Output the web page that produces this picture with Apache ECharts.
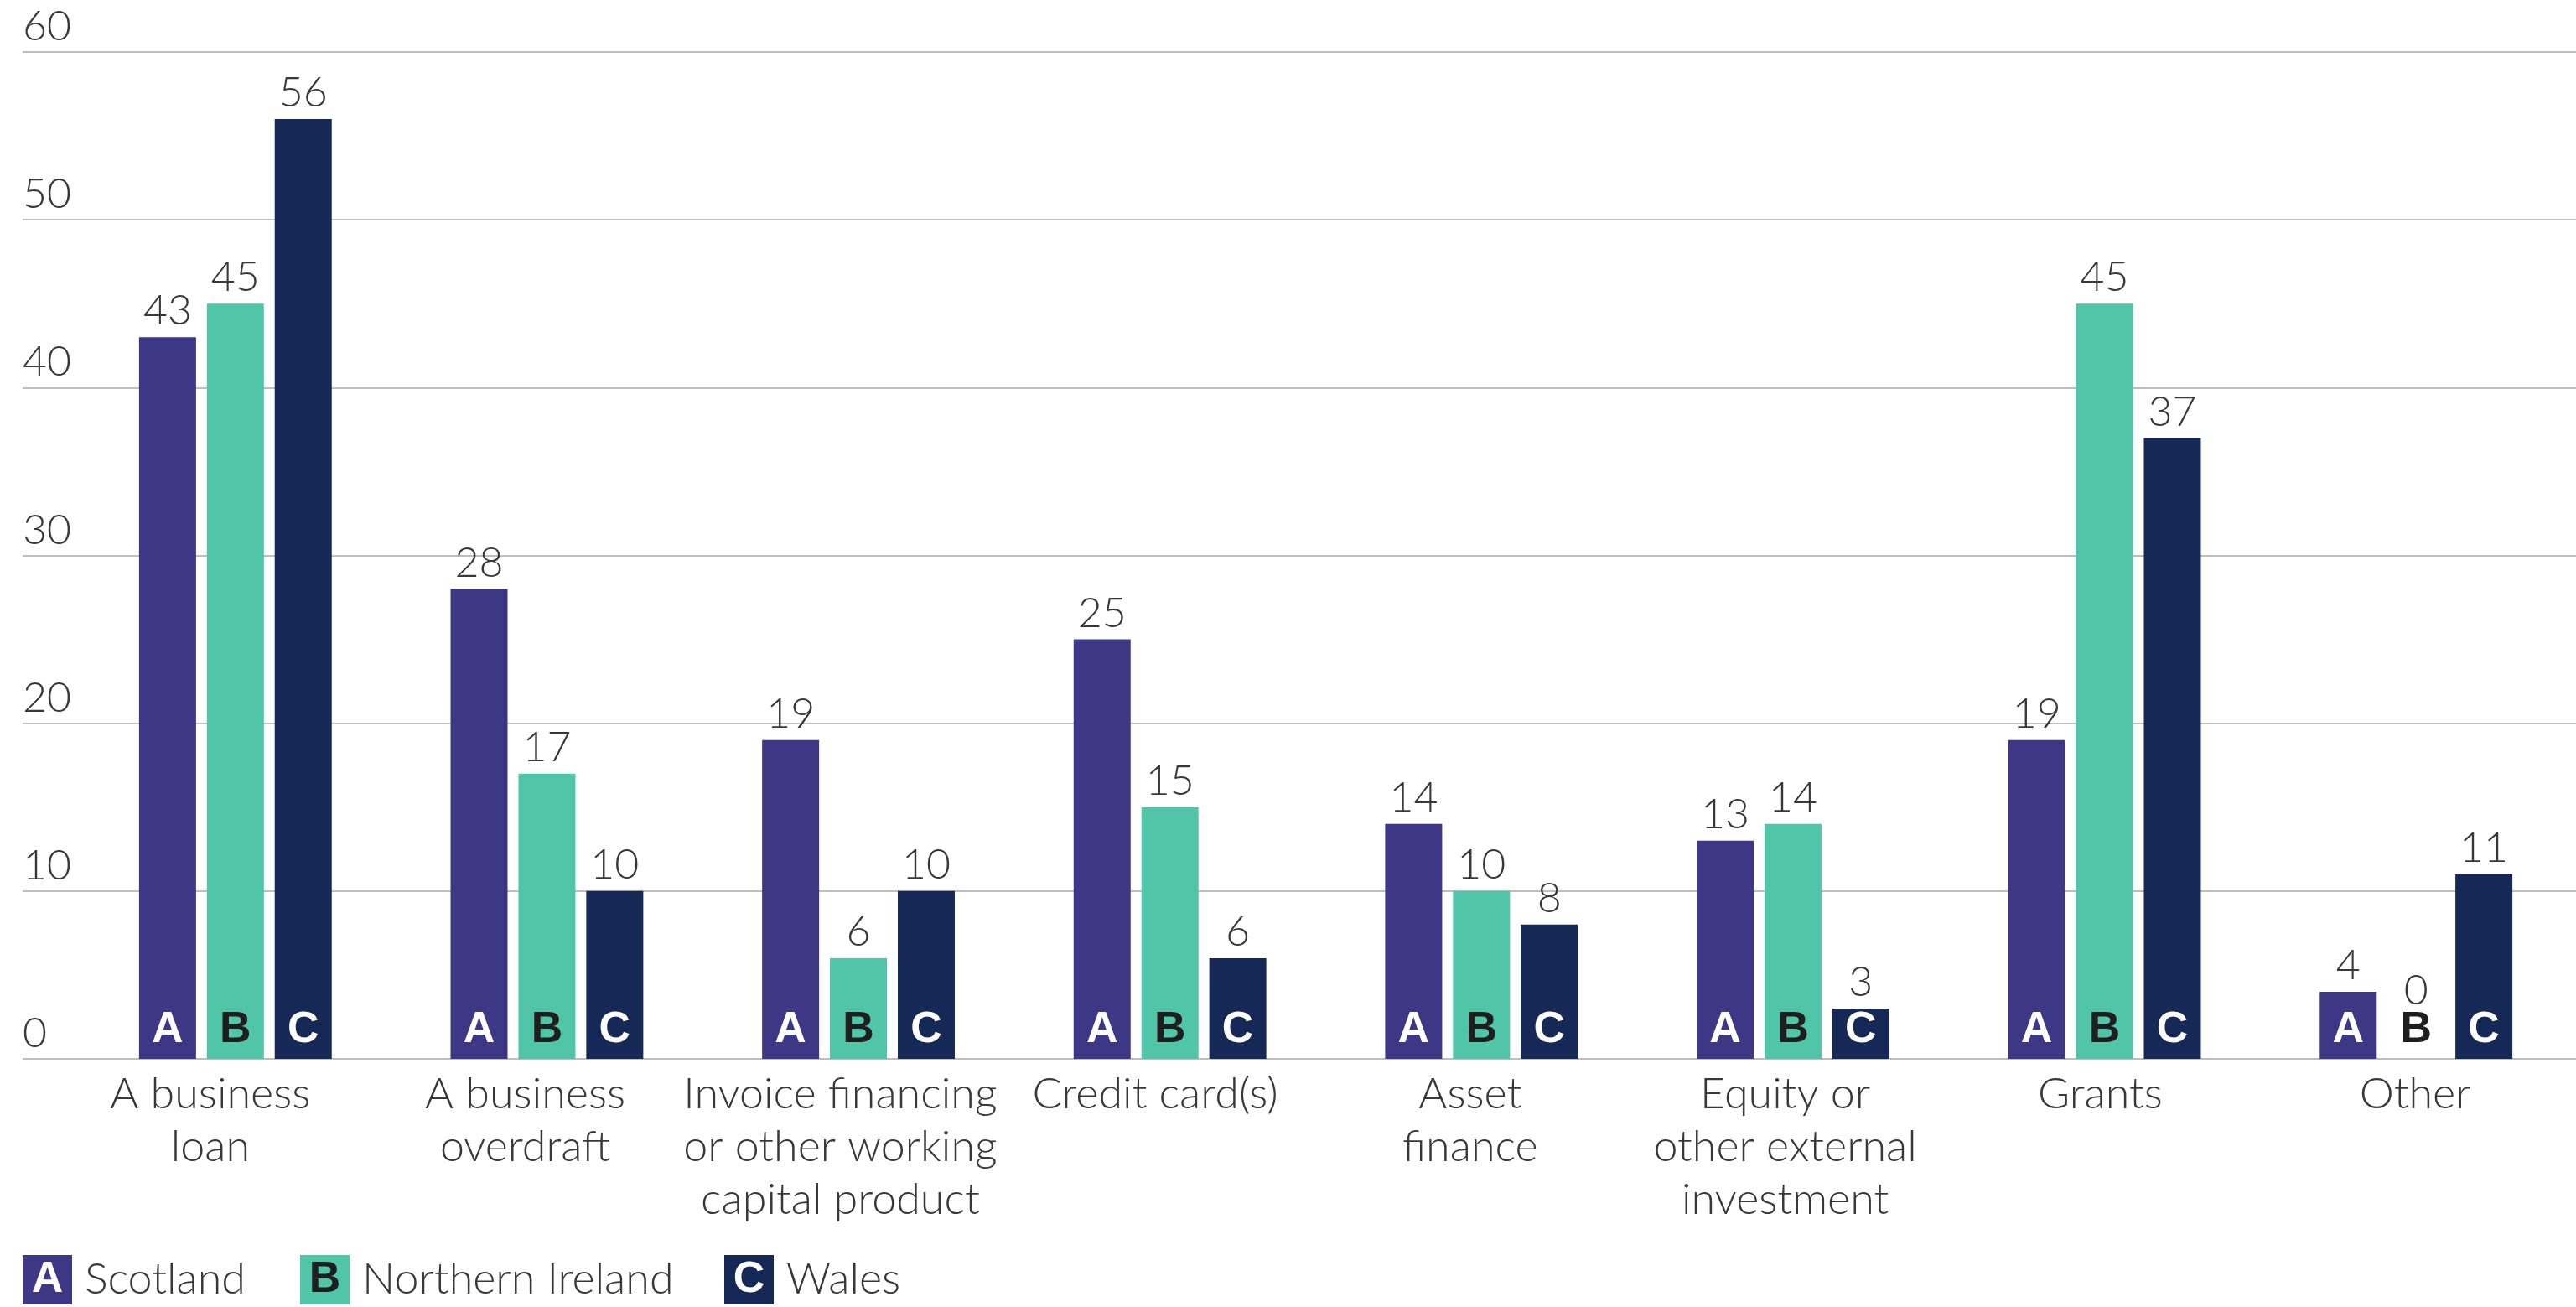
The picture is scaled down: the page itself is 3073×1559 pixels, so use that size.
<!DOCTYPE html>
<html>
<head>
<meta charset="utf-8">
<style>
  html, body { margin: 0; padding: 0; background: #ffffff; }
  #chart { width: 3073px; height: 1559px; }
</style>
<script src="https://cdn.jsdelivr.net/npm/echarts@6/dist/echarts.min.js"></script>
</head>
<body>
<div id="chart"></div>
<script>
// Share of businesses (%) by type of finance, per nation
const categories = [
  'A business\nloan',
  'A business\noverdraft',
  'Invoice financing\nor other working\ncapital product',
  'Credit card(s)',
  'Asset\nfinance',
  'Equity or\nother external\ninvestment',
  'Grants',
  'Other'
];
const scotland        = [43, 28, 19, 25, 14, 13, 19, 4];
const northernIreland = [45, 17, 6, 15, 10, 14, 45, 0];
const wales           = [56, 10, 10, 6, 8, 3, 37, 11];

const seriesNames = ['Scotland', 'Northern Ireland', 'Wales'];
const keyLetters  = ['A', 'B', 'C'];
const colors      = ['#3D3785', '#50C5A8', '#162855'];
const letterColors = ['#ffffff', '#1e1e1e', '#ffffff'];

const yMin = 0, yMax = 60, yStep = 10;

const TEXT = '#383838';
const FONT = 'Lato';
const KEY_FONT = 'Liberation Sans';

const BAR_W = 68;
const GRID_TOP = 62, GRID_BOTTOM = 296;

const values = [scotland, northernIreland, wales];
const stacks = ['s', 'n', 'w'];

// Letter markers sit on a zero-height bar at the base of each column
const letterSeries = keyLetters.map((letter, i) => ({
  name: seriesNames[i] + ' key',
  type: 'bar',
  xAxisIndex: 2,
  yAxisIndex: 2,
  stack: stacks[i],
  barWidth: BAR_W,
  barGap: '19%',
  z: 5,
  silent: true,
  itemStyle: { color: 'rgba(0,0,0,0)' },
  data: categories.map(() => 0),
  label: {
    show: true,
    position: 'top',
    distance: 8,
    formatter: letter,
    fontFamily: KEY_FONT,
    fontWeight: 'bold',
    fontSize: 52,
    color: letterColors[i]
  }
}));

const valueSeries = values.map((arr, i) => ({
  name: seriesNames[i],
  type: 'bar',
  xAxisIndex: 2,
  yAxisIndex: 2,
  stack: stacks[i],
  barWidth: BAR_W,
  barGap: '19%',
  z: 2,
  itemStyle: { color: colors[i] },
  data: arr.map(v => v === 0
    ? { value: v, label: { distance: 56 } }
    : v),
  label: {
    show: true,
    position: 'top',
    distance: 6,
    fontFamily: FONT,
    fontWeight: 300,
    fontSize: 50,
    color: TEXT
  }
}));

// One legend per nation, each with a lettered colour key
const legendLefts = [22, 353, 859];
const legends = seriesNames.map((name, i) => ({
  data: [name],
  left: legendLefts[i],
  bottom: 3,
  padding: 0,
  itemWidth: 0,
  itemHeight: 0,
  selectedMode: false,
  formatter: n => '{k|' + keyLetters[i] + '}{t|' + n + '}',
  textStyle: {
    rich: {
      k: {
        backgroundColor: colors[i],
        color: letterColors[i],
        width: 59,
        height: 59,
        lineHeight: 59,
        align: 'center',
        fontFamily: KEY_FONT,
        fontWeight: 'bold',
        fontSize: 52
      },
      t: {
        padding: [0, 0, 0, 15],
        fontFamily: FONT,
        fontWeight: 300,
        fontSize: 52,
        color: TEXT
      }
    }
  }
}));

const option = {
  backgroundColor: '#ffffff',
  animation: false,
  legend: legends,
  grid: [
    // gridlines and value labels
    { left: 27, right: 0, top: GRID_TOP, bottom: GRID_BOTTOM, containLabel: false },
    // category labels
    { left: 63, right: 4, top: GRID_TOP, bottom: GRID_BOTTOM, containLabel: false },
    // bars
    { left: 95, right: 5, top: GRID_TOP, bottom: GRID_BOTTOM, containLabel: false }
  ],
  xAxis: [
    { gridIndex: 0, type: 'value', show: false },
    {
      gridIndex: 1,
      type: 'category',
      data: categories,
      axisLine: { show: false },
      axisTick: { show: false },
      axisLabel: {
        interval: 0,
        margin: 11,
        fontFamily: FONT,
        fontWeight: 300,
        fontSize: 52,
        lineHeight: 63,
        color: TEXT
      }
    },
    { gridIndex: 2, type: 'category', data: categories, show: false }
  ],
  yAxis: [
    {
      gridIndex: 0,
      type: 'value',
      min: yMin,
      max: yMax,
      interval: yStep,
      axisLine: { show: false },
      axisTick: { show: false },
      splitLine: { show: true, lineStyle: { color: '#a8a8a8', width: 1.5 } },
      axisLabel: {
        inside: true,
        margin: 0,
        align: 'left',
        verticalAlign: 'bottom',
        padding: [0, 0, 5, 0],
        fontFamily: FONT,
        fontWeight: 300,
        fontSize: 50,
        color: TEXT
      }
    },
    { gridIndex: 1, type: 'value', min: yMin, max: yMax, show: false },
    { gridIndex: 2, type: 'value', min: yMin, max: yMax, show: false }
  ],
  series: letterSeries.concat(valueSeries)
};

const chart = echarts.init(document.getElementById('chart'), null, { renderer: 'canvas' });
chart.setOption(option);
</script>
</body>
</html>
